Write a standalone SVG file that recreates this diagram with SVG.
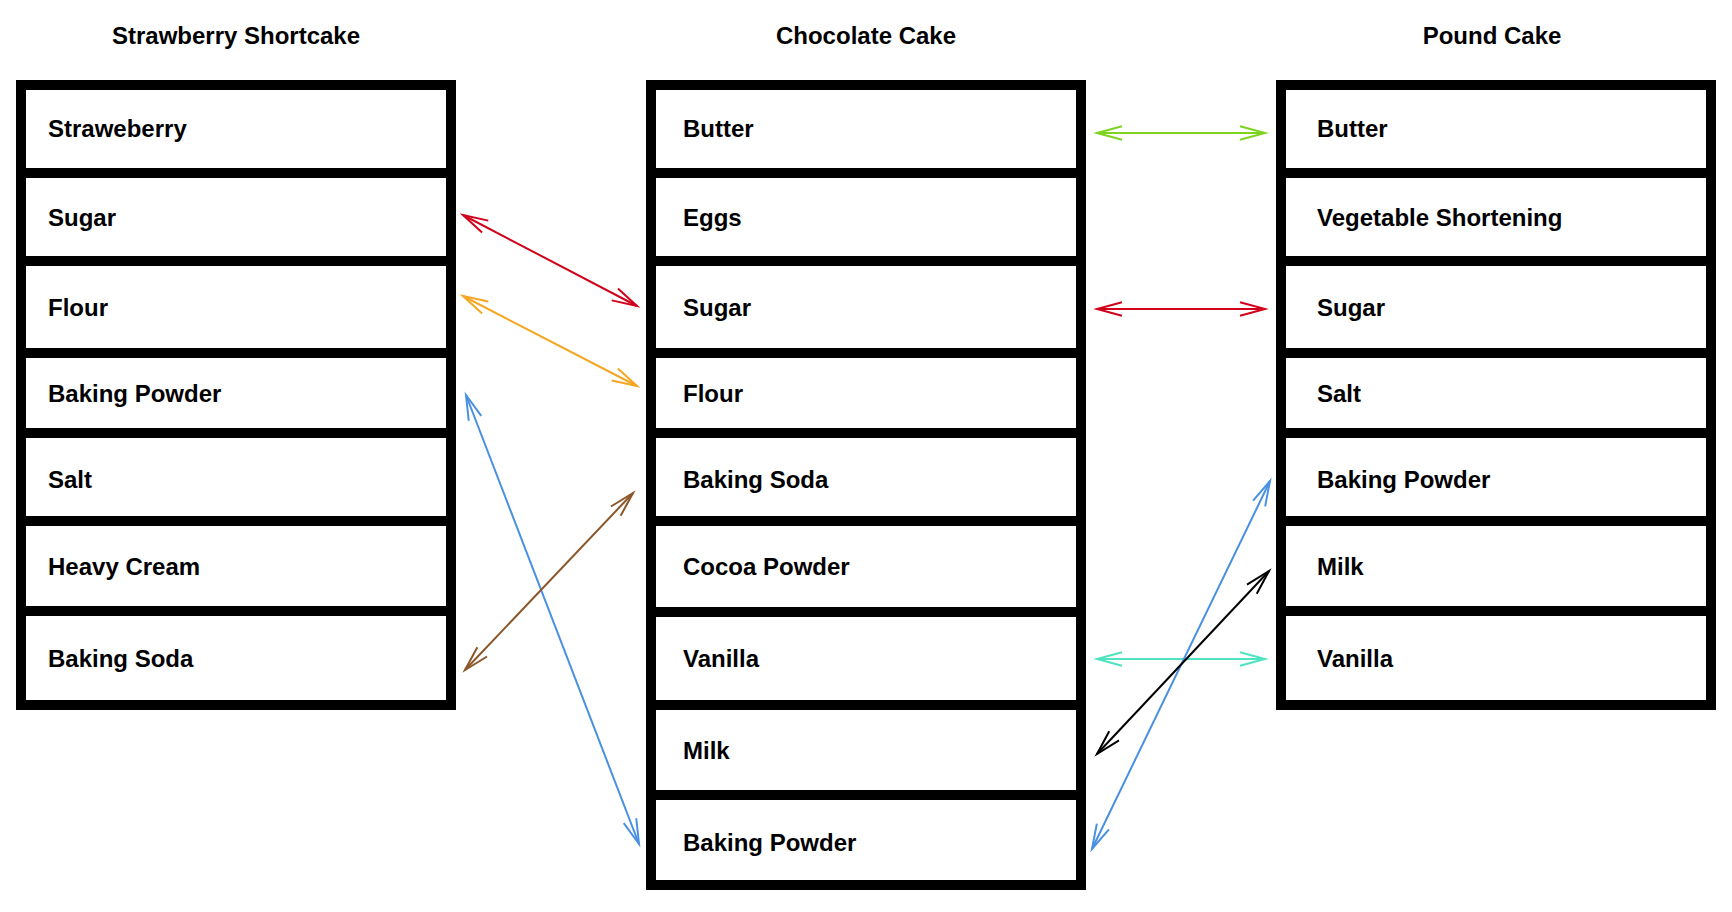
<svg xmlns="http://www.w3.org/2000/svg" width="1732" height="912" viewBox="0 0 1732 912">
<style>
  .title { font-family: "Liberation Sans", Arial, Helvetica, sans-serif; font-weight: bold; font-size: 24px; fill: #000; text-anchor: middle; }
  .cell rect { fill: #fff; stroke: #000; stroke-width: 10; }
  .cell text { font-family: "Liberation Sans", Arial, Helvetica, sans-serif; font-weight: bold; font-size: 24px; fill: #000; }
  .conn { fill: none; stroke-width: 2; }
  .mk { fill: none; stroke-width: 2; stroke-linejoin: miter; }
</style>
<defs>
  <marker id="m-green" markerUnits="userSpaceOnUse" viewBox="-30 -10 34 20" refX="0" refY="0" markerWidth="34" markerHeight="20" orient="auto-start-reverse"><path class="mk" stroke="#7ED321" d="M-25,-6.7 L0,0 L-25,6.7"/></marker>
  <marker id="m-red" markerUnits="userSpaceOnUse" viewBox="-30 -10 34 20" refX="0" refY="0" markerWidth="34" markerHeight="20" orient="auto-start-reverse"><path class="mk" stroke="#D0021B" d="M-25,-6.7 L0,0 L-25,6.7"/></marker>
  <marker id="m-orange" markerUnits="userSpaceOnUse" viewBox="-30 -10 34 20" refX="0" refY="0" markerWidth="34" markerHeight="20" orient="auto-start-reverse"><path class="mk" stroke="#F5A623" d="M-25,-6.7 L0,0 L-25,6.7"/></marker>
  <marker id="m-brown" markerUnits="userSpaceOnUse" viewBox="-30 -10 34 20" refX="0" refY="0" markerWidth="34" markerHeight="20" orient="auto-start-reverse"><path class="mk" stroke="#8B572A" d="M-25,-6.7 L0,0 L-25,6.7"/></marker>
  <marker id="m-blue" markerUnits="userSpaceOnUse" viewBox="-30 -10 34 20" refX="0" refY="0" markerWidth="34" markerHeight="20" orient="auto-start-reverse"><path class="mk" stroke="#4A90E2" d="M-25,-6.7 L0,0 L-25,6.7"/></marker>
  <marker id="m-teal" markerUnits="userSpaceOnUse" viewBox="-30 -10 34 20" refX="0" refY="0" markerWidth="34" markerHeight="20" orient="auto-start-reverse"><path class="mk" stroke="#50E3C2" d="M-25,-6.7 L0,0 L-25,6.7"/></marker>
  <marker id="m-black" markerUnits="userSpaceOnUse" viewBox="-30 -10 34 20" refX="0" refY="0" markerWidth="34" markerHeight="20" orient="auto-start-reverse"><path class="mk" stroke="#000000" d="M-25,-6.7 L0,0 L-25,6.7"/></marker>
</defs>
<rect x="0" y="0" width="1732" height="912" fill="#fff"/>

<g id="strawberry-shortcake">
  <text class="title" x="236" y="44">Strawberry Shortcake</text>
  <g id="ss-straweberry" class="cell"><rect x="21" y="85" width="430" height="88"/><text x="48" y="137">Straweberry</text></g>
  <g id="ss-sugar" class="cell"><rect x="21" y="173" width="430" height="88"/><text x="48" y="226">Sugar</text></g>
  <g id="ss-flour" class="cell"><rect x="21" y="261" width="430" height="92"/><text x="48" y="316">Flour</text></g>
  <g id="ss-baking-powder" class="cell"><rect x="21" y="353" width="430" height="80"/><text x="48" y="402">Baking Powder</text></g>
  <g id="ss-salt" class="cell"><rect x="21" y="433" width="430" height="88"/><text x="48" y="488">Salt</text></g>
  <g id="ss-heavy-cream" class="cell"><rect x="21" y="521" width="430" height="90"/><text x="48" y="575">Heavy Cream</text></g>
  <g id="ss-baking-soda" class="cell"><rect x="21" y="611" width="430" height="94"/><text x="48" y="667">Baking Soda</text></g>
</g>

<g id="chocolate-cake">
  <text class="title" x="866" y="44">Chocolate Cake</text>
  <g id="cc-butter" class="cell"><rect x="651" y="85" width="430" height="88"/><text x="683" y="137">Butter</text></g>
  <g id="cc-eggs" class="cell"><rect x="651" y="173" width="430" height="88"/><text x="683" y="226">Eggs</text></g>
  <g id="cc-sugar" class="cell"><rect x="651" y="261" width="430" height="92"/><text x="683" y="316">Sugar</text></g>
  <g id="cc-flour" class="cell"><rect x="651" y="353" width="430" height="80"/><text x="683" y="402">Flour</text></g>
  <g id="cc-baking-soda" class="cell"><rect x="651" y="433" width="430" height="88"/><text x="683" y="488">Baking Soda</text></g>
  <g id="cc-cocoa-powder" class="cell"><rect x="651" y="521" width="430" height="91"/><text x="683" y="575">Cocoa Powder</text></g>
  <g id="cc-vanilla" class="cell"><rect x="651" y="612" width="430" height="93"/><text x="683" y="667">Vanilla</text></g>
  <g id="cc-milk" class="cell"><rect x="651" y="705" width="430" height="90"/><text x="683" y="759">Milk</text></g>
  <g id="cc-baking-powder" class="cell"><rect x="651" y="795" width="430" height="90"/><text x="683" y="851">Baking Powder</text></g>
</g>

<g id="pound-cake">
  <text class="title" x="1492" y="44">Pound Cake</text>
  <g id="pc-butter" class="cell"><rect x="1281" y="85" width="430" height="88"/><text x="1317" y="137">Butter</text></g>
  <g id="pc-vegetable-shortening" class="cell"><rect x="1281" y="173" width="430" height="88"/><text x="1317" y="226">Vegetable Shortening</text></g>
  <g id="pc-sugar" class="cell"><rect x="1281" y="261" width="430" height="92"/><text x="1317" y="316">Sugar</text></g>
  <g id="pc-salt" class="cell"><rect x="1281" y="353" width="430" height="80"/><text x="1317" y="402">Salt</text></g>
  <g id="pc-baking-powder" class="cell"><rect x="1281" y="433" width="430" height="88"/><text x="1317" y="488">Baking Powder</text></g>
  <g id="pc-milk" class="cell"><rect x="1281" y="521" width="430" height="90"/><text x="1317" y="575">Milk</text></g>
  <g id="pc-vanilla" class="cell"><rect x="1281" y="611" width="430" height="94"/><text x="1317" y="667">Vanilla</text></g>
</g>

<g id="connectors">
  <line class="conn" stroke="#D0021B" x1="463" y1="215" x2="637" y2="306" marker-start="url(#m-red)" marker-end="url(#m-red)"/>
  <line class="conn" stroke="#F5A623" x1="463" y1="296" x2="637" y2="386" marker-start="url(#m-orange)" marker-end="url(#m-orange)"/>
  <line class="conn" stroke="#4A90E2" x1="466" y1="395" x2="639" y2="844" marker-start="url(#m-blue)" marker-end="url(#m-blue)"/>
  <line class="conn" stroke="#8B572A" x1="465" y1="670" x2="633" y2="493" marker-start="url(#m-brown)" marker-end="url(#m-brown)"/>
  <line class="conn" stroke="#7ED321" x1="1097" y1="133" x2="1265" y2="133" marker-start="url(#m-green)" marker-end="url(#m-green)"/>
  <line class="conn" stroke="#D0021B" x1="1097" y1="309" x2="1265" y2="309" marker-start="url(#m-red)" marker-end="url(#m-red)"/>
  <line class="conn" stroke="#50E3C2" x1="1097" y1="659" x2="1265" y2="659" marker-start="url(#m-teal)" marker-end="url(#m-teal)"/>
  <line class="conn" stroke="#4A90E2" x1="1270" y1="481" x2="1092" y2="849" marker-start="url(#m-blue)" marker-end="url(#m-blue)"/>
  <line class="conn" stroke="#000000" x1="1269" y1="571" x2="1097" y2="754" marker-start="url(#m-black)" marker-end="url(#m-black)"/>
</g>
</svg>
